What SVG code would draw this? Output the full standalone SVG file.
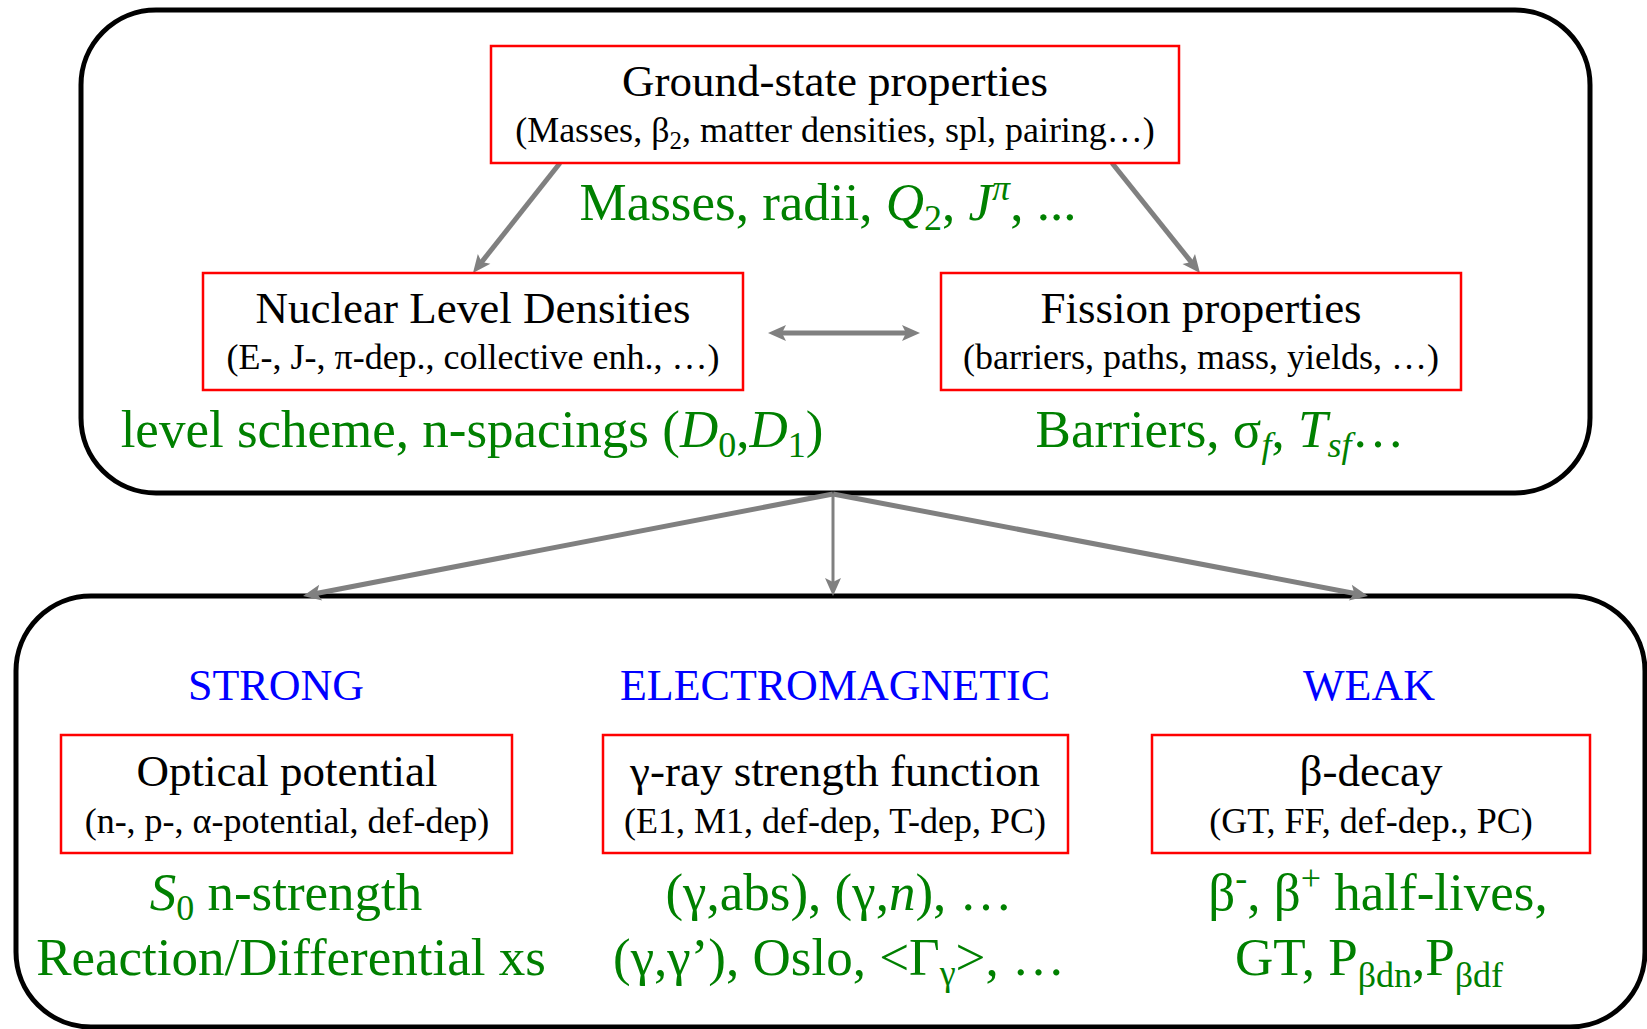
<svg xmlns="http://www.w3.org/2000/svg" width="1647" height="1029" viewBox="0 0 1647 1029">
<defs>
<style>
text{font-family:"Liberation Serif","Times New Roman",serif;text-anchor:middle}
.frame{fill:none;stroke:#000;stroke-width:5}
.box{fill:#fff;stroke:#ff0000;stroke-width:2.5}
.t{font-size:45px;fill:#000}
.s{font-size:36px;fill:#000}
.g{font-size:53px;fill:#008000}
.b{font-size:44px;fill:#0000ff}
.sub{font-size:36px}
.ssub{font-size:25px}
.conn{stroke:#808080;fill:none}
</style>
<marker id="ah" markerUnits="userSpaceOnUse" orient="auto-start-reverse" markerWidth="40" markerHeight="40" refX="0" refY="0" viewBox="-10 -20 40 40" overflow="visible">
<path d="M-6,-8 L12,0 L-6,8 L-2,0 z" fill="#808080"/>
</marker>
</defs>
<rect width="1647" height="1029" fill="#fff"/>

<g id="frame-top"><rect class="frame" x="81" y="10" width="1509" height="483" rx="75" ry="75"/></g>
<g id="frame-bottom"><rect class="frame" x="16" y="596" width="1629" height="431" rx="75" ry="75"/></g>

<g id="connectors">
<line class="conn" stroke-width="5" x1="560" y1="163" x2="480.4" y2="263.6" marker-end="url(#ah)"/>
<line class="conn" stroke-width="5" x1="1112" y1="163" x2="1192.5" y2="263.6" marker-end="url(#ah)"/>
<line class="conn" stroke-width="5" x1="780" y1="333" x2="908" y2="333" marker-start="url(#ah)" marker-end="url(#ah)"/>
<line class="conn" stroke-width="5" x1="833" y1="494" x2="314.8" y2="593.7" marker-end="url(#ah)"/>
<line class="conn" stroke-width="3" x1="833" y1="494" x2="833" y2="584" marker-end="url(#ah)"/>
<line class="conn" stroke-width="5" x1="833" y1="494" x2="1356.2" y2="593.7" marker-end="url(#ah)"/>
</g>

<g id="ground-state">
<rect class="box" x="491" y="46" width="688" height="117"/>
<text class="t" x="835" y="96">Ground-state properties</text>
<text class="s" x="835" y="142">(Masses, β<tspan class="ssub" dy="7">2</tspan><tspan dy="-7">, matter densities, spl, pairing…)</tspan></text>
<text class="g" x="828" y="220">Masses, radii, <tspan font-style="italic">Q</tspan><tspan class="sub" dy="10">2</tspan><tspan dy="-10">, </tspan><tspan font-style="italic">J</tspan><tspan class="sub" font-style="italic" dy="-20">π</tspan><tspan dy="20">, ...</tspan></text>
</g>

<g id="nld">
<rect class="box" x="203" y="273" width="540" height="117"/>
<text class="t" x="473" y="323">Nuclear Level Densities</text>
<text class="s" x="473" y="369">(E-, J-, π-dep., collective enh., …)</text>
<text class="g" x="472" y="447">level scheme, n-spacings (<tspan font-style="italic">D</tspan><tspan class="sub" dy="10">0</tspan><tspan dy="-10">,</tspan><tspan font-style="italic">D</tspan><tspan class="sub" dy="10">1</tspan><tspan dy="-10">)</tspan></text>
</g>

<g id="fission">
<rect class="box" x="941" y="273" width="520" height="117"/>
<text class="t" x="1201" y="323">Fission properties</text>
<text class="s" x="1201" y="369">(barriers, paths, mass, yields, …)</text>
<text class="g" x="1220" y="447">Barriers, σ<tspan class="sub" font-style="italic" dy="10">f</tspan><tspan dy="-10">, </tspan><tspan font-style="italic">T</tspan><tspan class="sub" font-style="italic" dy="10">sf</tspan><tspan dy="-10">…</tspan></text>
</g>

<g id="strong">
<text class="b" x="276" y="700">STRONG</text>
<rect class="box" x="61" y="735" width="451" height="118"/>
<text class="t" x="287" y="786">Optical potential</text>
<text class="s" x="287" y="833">(n-, p-, α-potential, def-dep)</text>
<text class="g" x="286" y="910"><tspan font-style="italic">S</tspan><tspan class="sub" dy="10">0</tspan><tspan dy="-10"> n-strength</tspan></text>
<text class="g" x="291" y="975">Reaction/Differential xs</text>
</g>

<g id="electromagnetic">
<text class="b" x="835" y="700">ELECTROMAGNETIC</text>
<rect class="box" x="603" y="735" width="465" height="118"/>
<text class="t" x="835" y="786">γ-ray strength function</text>
<text class="s" x="835" y="833">(E1, M1, def-dep, T-dep, PC)</text>
<text class="g" x="839" y="910">(γ,abs), (γ,<tspan font-style="italic">n</tspan>), …</text>
<text class="g" x="839" y="975">(γ,γ’), Oslo, &lt;Γ<tspan class="sub" dy="10">γ</tspan><tspan dy="-10">&gt;, …</tspan></text>
</g>

<g id="weak">
<text class="b" x="1369" y="700">WEAK</text>
<rect class="box" x="1152" y="735" width="438" height="118"/>
<text class="t" x="1371" y="786">β-decay</text>
<text class="s" x="1371" y="833">(GT, FF, def-dep., PC)</text>
<text class="g" x="1378" y="910">β<tspan class="sub" dy="-20">-</tspan><tspan dy="20">, β</tspan><tspan class="sub" dy="-20">+</tspan><tspan dy="20"> half-lives,</tspan></text>
<text class="g" x="1369" y="975">GT, P<tspan class="sub" dy="12">βdn</tspan><tspan dy="-12">,P</tspan><tspan class="sub" dy="12">βdf</tspan></text>
</g>
</svg>
